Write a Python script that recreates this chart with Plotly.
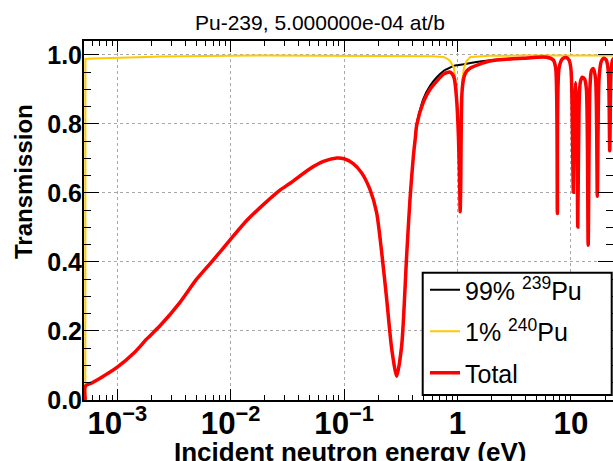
import plotly.graph_objects as go

# ---------------- data ----------------
energy_total = [5.22e-4, 5.23e-4, 6.0e-4, 7.05e-4, 1.0e-3, 1.4e-3, 1.82e-3, 2.38e-3,
                3.57e-3, 5.0e-3, 7.03e-3, 1.0e-2, 1.384e-2, 1.94e-2, 2.72e-2, 3.34e-2,
                5.0e-2, 6.56e-2, 8.61e-2, 0.100, 0.1205, 0.1428, 0.169, 0.1935,
                0.2146, 0.2375, 0.263, 0.291, 0.322, 0.356, 0.381, 0.408,
                0.425, 0.436, 0.499, 0.573, 0.657, 0.753, 0.80, 0.86,
                0.93, 0.98, 1.02, 1.045, 1.056, 1.068, 1.095, 1.14,
                1.20, 1.30, 1.93, 3.82, 6.1, 7.0, 7.35, 7.6,
                7.85, 8.4, 9.1, 9.6, 10.0, 10.3, 10.5, 10.75,
                11.0, 11.25, 11.5, 11.8, 12.1, 12.6, 13.2, 13.7,
                14.2, 14.7, 15.2, 15.8, 16.5, 17.1, 17.7, 18.5,
                19.5, 20.5, 21.4, 22.0, 22.6, 23.3, 24.0]
trans_total = [0.0, 0.040, 0.050, 0.063, 0.095, 0.136, 0.177, 0.215,
               0.283, 0.350, 0.406, 0.466, 0.520, 0.566, 0.608, 0.628,
               0.670, 0.691, 0.701, 0.699, 0.685, 0.658, 0.610, 0.543,
               0.427, 0.292, 0.148, 0.069, 0.158, 0.417, 0.581, 0.706,
               0.760, 0.795, 0.862, 0.900, 0.924, 0.944, 0.948, 0.950,
               0.935, 0.875, 0.760, 0.620, 0.545, 0.620, 0.890, 0.935,
               0.952, 0.962, 0.982, 0.990, 0.993, 0.985, 0.960, 0.540,
               0.960, 0.988, 0.992, 0.985, 0.960, 0.800, 0.602, 0.850,
               0.920, 0.850, 0.501, 0.850, 0.920, 0.935, 0.930, 0.900,
               0.448, 0.900, 0.955, 0.960, 0.930, 0.590, 0.930, 0.980,
               0.990, 0.985, 0.950, 0.722, 0.950, 0.985, 0.990]

energy_239 = [5.22e-4, 5.23e-4, 6.0e-4, 7.05e-4, 1.0e-3, 1.4e-3, 1.82e-3, 2.38e-3,
              3.57e-3, 5.0e-3, 7.03e-3, 1.0e-2, 1.384e-2, 1.94e-2, 2.72e-2, 3.34e-2,
              5.0e-2, 6.56e-2, 8.61e-2, 0.100, 0.1205, 0.1428, 0.169, 0.1935,
              0.2146, 0.2375, 0.263, 0.291, 0.322, 0.356, 0.381, 0.408,
              0.425, 0.436, 0.499, 0.573, 0.657, 0.753, 0.80, 0.86,
              0.93, 1.0, 1.1, 1.2, 1.3, 1.93, 3.82, 6.1,
              7.0, 7.35, 7.6, 7.85, 8.4, 9.1, 9.6, 10.0,
              10.3, 10.5, 10.75, 11.0, 11.25, 11.5, 11.8, 12.1,
              12.6, 13.2, 13.7, 14.2, 14.7, 15.2, 15.8, 16.5,
              17.1, 17.7, 18.5, 19.5, 20.5, 21.4, 22.0, 22.6,
              23.3, 24.0]
trans_239 = [0.0, 0.040, 0.050, 0.063, 0.095, 0.136, 0.177, 0.215,
             0.283, 0.350, 0.406, 0.466, 0.520, 0.566, 0.608, 0.628,
             0.670, 0.691, 0.701, 0.699, 0.685, 0.658, 0.610, 0.543,
             0.427, 0.292, 0.148, 0.069, 0.158, 0.417, 0.581, 0.706,
             0.765, 0.800, 0.872, 0.910, 0.935, 0.953, 0.958, 0.963,
             0.968, 0.970, 0.972, 0.974, 0.976, 0.984, 0.991, 0.993,
             0.985, 0.960, 0.540, 0.960, 0.988, 0.992, 0.985, 0.960,
             0.800, 0.602, 0.850, 0.920, 0.850, 0.501, 0.850, 0.920,
             0.935, 0.930, 0.900, 0.448, 0.900, 0.955, 0.960, 0.930,
             0.590, 0.930, 0.980, 0.990, 0.985, 0.950, 0.722, 0.950,
             0.985, 0.990]

energy_240 = [5.22e-4, 5.23e-4, 6.0e-4, 7.05e-4, 1.0e-3, 1.4e-3, 1.82e-3, 2.38e-3,
              3.57e-3, 5.0e-3, 7.0e-3, 1.0e-2, 2.0e-2, 5.0e-2, 0.1, 0.2,
              0.4, 0.6, 0.753, 0.80, 0.86, 0.93, 0.98, 1.02,
              1.045, 1.056, 1.068, 1.095, 1.14, 1.20, 1.30, 1.93,
              3.82, 10.0, 24.0]
trans_240 = [0.0, 0.988, 0.989, 0.990, 0.992, 0.993, 0.994, 0.995,
             0.996, 0.9965, 0.997, 0.9975, 0.998, 0.998, 0.998, 0.998,
             0.997, 0.996, 0.994, 0.990, 0.982, 0.963, 0.900, 0.780,
             0.640, 0.570, 0.640, 0.920, 0.962, 0.982, 0.994, 0.997,
             0.998, 0.998, 0.998]

series_names = ["99% <sup>239</sup>Pu", "1% <sup>240</sup>Pu", "Total"]
series_colors = ["#000000", "#ffc800", "#ff0000"]
series_widths = [2, 2, 3.5]
series_shapes = ["spline", "linear", "spline"]

title_text = "Pu-239, 5.000000e-04 at/b"
x_title = "Incident neutron energy (eV)"
y_title = "Transmission"

# ---------------- figure ----------------
W, H = 613, 461
L, R, T, B = 84, 0, 41, 61
pw, ph = W - L - R, H - T - B

fig = go.Figure()
for i, (xs, ys) in enumerate([(energy_239, trans_239), (energy_240, trans_240),
                              (energy_total, trans_total)]):
    line = dict(color=series_colors[i], width=series_widths[i], shape=series_shapes[i])
    if series_shapes[i] == "spline":
        line["smoothing"] = 0.7
    fig.add_trace(go.Scatter(
        x=xs, y=ys, mode="lines", name=series_names[i],
        legendgroup="g%d" % i, line=line,
    ))

tickfont = dict(family="Liberation Sans", size=25, color="black", weight="bold")

fig.update_layout(
    width=W, height=H,
    margin=dict(l=L, r=R, t=T, b=B, pad=0, autoexpand=False),
    paper_bgcolor="white", plot_bgcolor="white",
    showlegend=True,
    legend=dict(
        x=(425 - L) / pw, y=(400 - 267) / ph, xanchor="left", yanchor="top",
        bgcolor="rgba(0,0,0,0)", borderwidth=0,
        font=dict(family="Liberation Sans", size=25, color="black"),
        traceorder="grouped", tracegroupgap=6,
    ),
    xaxis=dict(
        type="log", range=[-3.2937, 1.3713], automargin=False,
        dtick=1, exponentformat="power",
        ticks="inside", ticklen=11, tickwidth=1, tickcolor="black",
        ticklabelstandoff=-4,
        minor=dict(dtick="D1", ticks="inside", ticklen=5, tickcolor="black", showgrid=False),
        showline=True, linewidth=2, linecolor="black", mirror="ticks",
        showgrid=True, gridcolor="#a8a8a8", gridwidth=1, griddash="dot",
        tickfont=tickfont, zeroline=False,
    ),
    yaxis=dict(
        range=[0, 1.04], tick0=0, dtick=0.2, tickformat=".1f", automargin=False,
        ticks="inside", ticklen=15, tickwidth=1, tickcolor="black",
        ticklabelstandoff=-5,
        minor=dict(dtick=0.05, ticks="inside", ticklen=7, tickcolor="black", showgrid=False),
        showline=True, linewidth=2, linecolor="black", mirror="ticks",
        showgrid=True, gridcolor="#a8a8a8", gridwidth=1, griddash="dot",
        tickfont=tickfont, zeroline=False,
    ),
    shapes=[dict(
        type="rect", xref="paper", yref="paper", layer="above",
        x0=(422.7 - L) / pw, x1=(611.7 - L) / pw,
        y0=(400 - 395) / ph, y1=(400 - 272.7) / ph,
        fillcolor="white", line=dict(color="black", width=2),
    )],
    annotations=[
        dict(text=title_text, xref="paper", yref="paper",
             x=(320 - L) / pw, y=(400 - 9) / ph, xanchor="center", yanchor="top",
             showarrow=False, font=dict(family="Liberation Sans", size=21, color="black")),
        dict(text=x_title, xref="paper", yref="paper",
             x=(350 - L) / pw, y=(400 - 435) / ph, xanchor="center", yanchor="top",
             showarrow=False,
             font=dict(family="Liberation Sans", size=26, color="black", weight="bold")),
        dict(text=y_title, xref="paper", yref="paper",
             x=(24 - L) / pw, y=(400 - 182) / ph, xanchor="center", yanchor="middle",
             textangle=-90, showarrow=False,
             font=dict(family="Liberation Sans", size=24, color="black", weight="bold")),
    ],
)

fig.write_html("out.html",
               config={"displayModeBar": False},
               post_script="document.body.style.margin='0';document.body.style.overflow='hidden';")
